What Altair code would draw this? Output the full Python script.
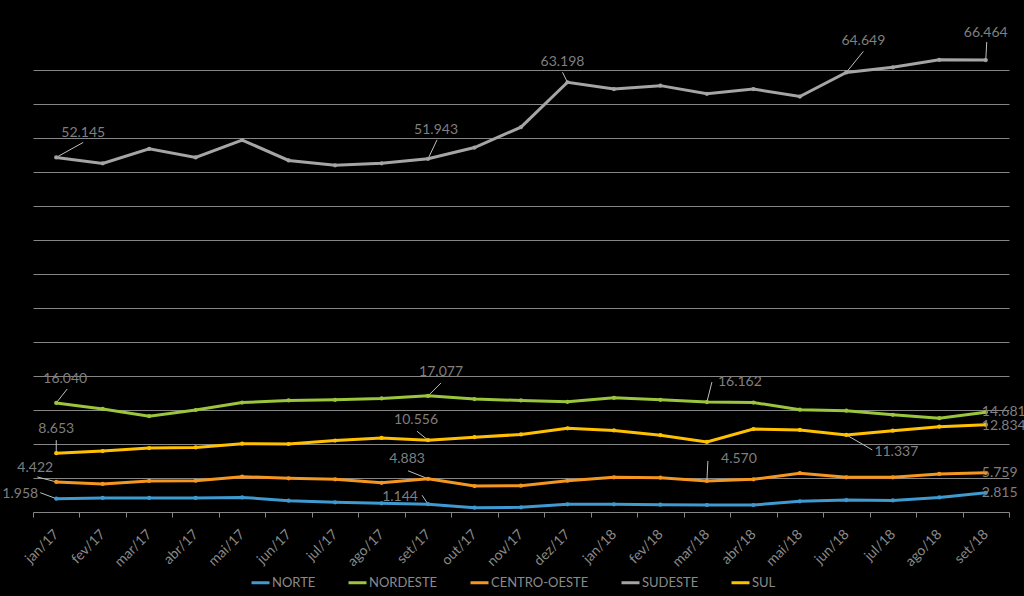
import altair as alt
import pandas as pd

months = ["jan/17", "fev/17", "mar/17", "abr/17", "mai/17", "jun/17", "jul/17",
          "ago/17", "set/17", "out/17", "nov/17", "dez/17", "jan/18", "fev/18",
          "mar/18", "abr/18", "mai/18", "jun/18", "jul/18", "ago/18", "set/18"]
regions = ["NORTE", "NORDESTE", "CENTRO-OESTE", "SUDESTE", "SUL"]
colors = ["#3E9AD0", "#9BC53D", "#F5961E", "#A5A5A5", "#FFC000"]

norte = [1.958, 2.06, 2.06, 2.06, 2.15, 1.67, 1.42, 1.27, 1.144, 0.64, 0.69,
         1.13, 1.13, 1.08, 1.03, 1.03, 1.57, 1.76, 1.70, 2.15, 2.815]
nordeste = [16.040, 15.15, 14.1, 15.0, 16.1, 16.4, 16.5, 16.7, 17.077, 16.6, 16.4,
            16.2, 16.8, 16.5, 16.162, 16.1, 15.05, 14.9, 14.3, 13.8, 14.681]
centro_oeste = [4.422, 4.12, 4.56, 4.6, 5.2, 4.95, 4.8, 4.3, 4.883, 3.82, 3.87,
                4.6, 5.1, 5.05, 4.570, 4.8, 5.7, 5.1, 5.1, 5.6, 5.759]
sudeste = [52.145, 51.27, 53.4, 52.15, 54.7, 51.7, 50.98, 51.27, 51.943, 53.6, 56.6,
           63.198, 62.2, 62.7, 61.5, 62.2, 61.1, 64.649, 65.4, 66.5, 66.464]
sul = [8.653, 8.97, 9.4, 9.5, 10.05, 10.0, 10.5, 10.9, 10.556, 11.0, 11.4,
       12.3, 12.0, 11.3, 10.3, 12.2, 12.06, 11.337, 11.96, 12.55, 12.834]

series = {"NORTE": norte, "NORDESTE": nordeste, "CENTRO-OESTE": centro_oeste,
          "SUDESTE": sudeste, "SUL": sul}

rows = []
for r in regions:
    for i, (m, v) in enumerate(zip(months, series[r])):
        rows.append({"month": m, "idx": i, "region": r, "value": v})
df = pd.DataFrame(rows)

# labelled points: (region, month index, dx, dy, align)
labels = [
    ("SUDESTE", 0, 27, -24, "center"), ("SUDESTE", 8, 8, -29, "center"),
    ("SUDESTE", 11, -5, -20, "center"), ("SUDESTE", 17, 17, -31, "center"),
    ("SUDESTE", 20, 0, -27, "center"),
    ("NORDESTE", 0, 9, -24, "center"), ("NORDESTE", 8, 13, -24, "center"),
    ("NORDESTE", 14, 33, -20, "center"), ("NORDESTE", 20, -4, 0, "left"),
    ("SUL", 0, 0, -24, "center"), ("SUL", 8, -12, -20, "center"),
    ("SUL", 17, 50, 17, "center"), ("SUL", 20, -4, 1, "left"),
    ("CENTRO-OESTE", 0, -21, -14, "center"), ("CENTRO-OESTE", 8, -21, -20, "center"),
    ("CENTRO-OESTE", 14, 32, -22, "center"), ("CENTRO-OESTE", 20, -4, 0, "left"),
    ("NORTE", 0, -36, -5, "center"), ("NORTE", 8, -28, -7, "center"),
    ("NORTE", 20, -4, 0, "left"),
]
# leader lines: (region, month index, dx, dy)
leaders = [
    ("SUDESTE", 0, 27, -15), ("SUDESTE", 8, 9, -19), ("SUDESTE", 11, -5, -10),
    ("SUDESTE", 17, 17, -21), ("SUDESTE", 20, 1, -18),
    ("NORDESTE", 0, 11, -14), ("NORDESTE", 8, 13, -13), ("NORDESTE", 14, 5, -20),
    ("SUL", 0, 0, -13), ("SUL", 8, -11, -9), ("SUL", 17, 26, 15),
    ("CENTRO-OESTE", 0, -19, -5), ("CENTRO-OESTE", 8, -20, -8), ("CENTRO-OESTE", 14, 1, -20),
    ("NORTE", 0, -16, -6), ("NORTE", 8, -6, -9),
]

FONT = "Lato"
GRAY_TXT = "#7f7f7f"

x_enc = alt.X(
    "month:N", sort=months,
    scale=alt.Scale(type="band", paddingInner=0, paddingOuter=0),
    axis=alt.Axis(title=None, labelAngle=-45, labelAlign="right", labelBaseline="middle",
                  labelPadding=15, labelFontSize=14, labelFont=FONT, labelColor="#8a8a8a",
                  tickBand="extent", tickSize=5, tickColor="#868686",
                  domainColor="#868686", grid=False),
)
y_enc = alt.Y(
    "value:Q",
    scale=alt.Scale(domain=[0, 70], nice=False, zero=True),
    axis=alt.Axis(title=None, labels=False, ticks=False, domain=False, grid=True,
                  values=list(range(5, 70, 5)), gridColor="#868686", gridWidth=1),
)

base = alt.Chart(df)

lines = base.mark_line(strokeWidth=3, point=alt.OverlayMarkDef(filled=True, size=18)).encode(
    x=x_enc, y=y_enc,
    color=alt.Color("region:N", scale=alt.Scale(domain=regions, range=colors),
                    legend=alt.Legend(orient="none", legendX=217, legendY=536,
                                      direction="horizontal", title=None,
                                      symbolType="stroke", symbolStrokeWidth=3,
                                      symbolSize=324, labelColor="#8a8a8a",
                                      labelFontSize=13, labelFont=FONT,
                                      columnPadding=26, labelOffset=1)),
    detail="region:N",
)

layers = []
for r, i, dx, dy in leaders:
    layers.append(
        base.mark_rule(color="#bfbfbf", strokeWidth=1, x2Offset=dx, y2Offset=dy)
        .encode(x=x_enc, x2=alt.X2("month"), y=y_enc, y2=alt.Y2("value"))
        .transform_filter((alt.datum.region == r) & (alt.datum.idx == i))
    )
layers.append(lines)
for r, i, dx, dy, al in labels:
    layers.append(
        base.mark_text(color=GRAY_TXT, fontSize=14, font=FONT, dx=dx, dy=dy,
                       align=al, baseline="middle")
        .encode(x=x_enc, y=y_enc, text=alt.Text("value:Q", format=".3f"))
        .transform_filter((alt.datum.region == r) & (alt.datum.idx == i))
    )

chart = alt.layer(*layers).properties(
    width=976, height=476,
    autosize=alt.AutoSizeParams(type="none"),
    padding={"left": 33, "top": 36, "right": 15, "bottom": 84},
    background="black",
).configure_view(stroke=None)

chart.save("out.html", embed_options={"renderer": "svg", "actions": False})
